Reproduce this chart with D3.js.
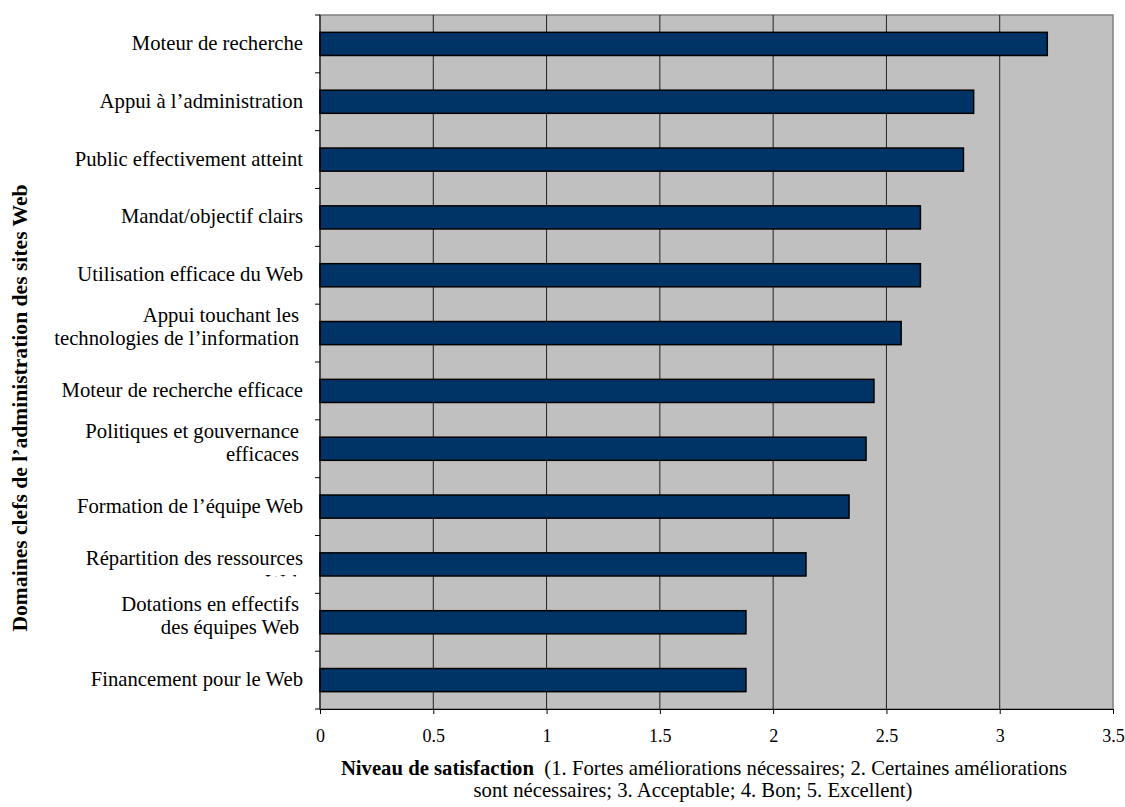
<!DOCTYPE html>
<html>
<head>
<meta charset="utf-8">
<script src="https://cdn.jsdelivr.net/npm/d3@7"></script>
<style>
  body { margin: 0; background: #fff; }
  svg { font-family: "Liberation Serif", "Times New Roman", serif; }
</style>
</head>
<body>
<script>
// DATA
const categories = [
    ['Moteur de recherche'],
    ['Appui à l’administration'],
    ['Public effectivement atteint'],
    ['Mandat/objectif clairs'],
    ['Utilisation efficace du Web'],
    ['Appui touchant les', 'technologies de l’information'],
    ['Moteur de recherche efficace'],
    ['Politiques et gouvernance', 'efficaces'],
    ['Formation de l’équipe Web'],
    ['Répartition des ressources', 'Web'],
    ['Dotations en effectifs', 'des équipes Web'],
    ['Financement pour le Web']
];
const values = [3.21, 2.885, 2.84, 2.65, 2.65, 2.565, 2.445, 2.41, 2.335, 2.145, 1.88, 1.88];
const xTicks = [0, 0.5, 1, 1.5, 2, 2.5, 3, 3.5];
const yTitle = 'Domaines clefs de l’administration des sites Web';
const xTitleBold = 'Niveau de satisfaction';
const xTitleRest = '  (1. Fortes améliorations nécessaires; 2. Certaines améliorations';
const xTitleLine2 = 'sont nécessaires; 3. Acceptable; 4. Bon; 5. Excellent)';

//
// SIZES
const WIDTH = 1125, HEIGHT = 807;
const LEFT = 320, RIGHT = 1113, TOP = 15, BOTTOM = 709;

const svg = d3.select('body').append('svg')
    .attr('width', WIDTH)
    .attr('height', HEIGHT);

const x = d3.scaleLinear().domain([0, 3.5]).range([LEFT, RIGHT]);
const y = d3.scaleBand().domain(d3.range(categories.length)).range([TOP, BOTTOM]).paddingInner(0.6).paddingOuter(0.3);
const yb = d3.scaleBand().domain(d3.range(categories.length)).range([TOP, BOTTOM]);

// plot area
svg.append('rect')
    .attr('x', LEFT).attr('y', TOP)
    .attr('width', RIGHT - LEFT).attr('height', BOTTOM - TOP)
    .attr('fill', '#C0C0C0')
    .attr('stroke', '#808080')
    .attr('stroke-width', 1.5);

// gridlines
svg.append('g').selectAll('line')
    .data(xTicks.slice(1, -1))
    .enter().append('line')
    .attr('x1', d => x(d)).attr('x2', d => x(d))
    .attr('y1', TOP).attr('y2', BOTTOM)
    .attr('stroke', '#222')
    .attr('stroke-width', 1);

// bars
svg.append('g').selectAll('rect')
    .data(values)
    .enter().append('rect')
    .attr('x', x(0))
    .attr('y', (d, i) => y(i))
    .attr('width', d => x(d) - x(0))
    .attr('height', y.bandwidth())
    .attr('fill', '#003366')
    .attr('stroke', '#000')
    .attr('stroke-width', 1.5);

// x axis
const xAxis = svg.append('g')
    .attr('transform', 'translate(0,' + BOTTOM + ')')
    .call(d3.axisBottom(x).tickValues(xTicks).tickFormat(d3.format('')).tickSize(5).tickPadding(15));
xAxis.select('.domain').attr('stroke', '#000');
xAxis.selectAll('.tick line').attr('stroke', '#000');
xAxis.selectAll('text')
    .attr('font-family', '"Liberation Serif", serif')
    .attr('font-size', 18)
    .attr('fill', '#000');

// y axis line and ticks at band boundaries
svg.append('line')
    .attr('x1', LEFT).attr('x2', LEFT)
    .attr('y1', TOP).attr('y2', BOTTOM)
    .attr('stroke', '#000');
svg.append('g').selectAll('line')
    .data(d3.range(categories.length + 1))
    .enter().append('line')
    .attr('x1', LEFT - 5).attr('x2', LEFT)
    .attr('y1', i => TOP + i * yb.step())
    .attr('y2', i => TOP + i * yb.step())
    .attr('stroke', '#000');

// clip for the truncated label
const cutC = yb(9) + yb.bandwidth() / 2;
svg.append('clipPath').attr('id', 'cut')
    .append('rect')
    .attr('x', 0).attr('y', yb(9)).attr('width', LEFT).attr('height', cutC + 12 - yb(9));

// category labels
const labels = svg.append('g')
    .attr('font-size', 20.7)
    .attr('text-anchor', 'end')
    .attr('fill', '#000');
categories.forEach(function (lines, i) {
    const c = yb(i) + yb.bandwidth() / 2;
    const truncated = (i === 9);
    const t = labels.append('text')
        .attr('x', lines.length > 1 && !truncated ? 299 : 303);
    if (truncated) t.attr('clip-path', 'url(#cut)');
    lines.forEach(function (s, k) {
        let base;
        if (lines.length === 1) base = c + 6;
        else if (truncated) base = c + 1 + k * 24;
        else base = c - 11 + k * 23;
        t.append('tspan').attr('x', t.attr('x')).attr('y', base).text(s);
    });
});

// y title
svg.append('text')
    .attr('transform', 'translate(27,408) rotate(-90)')
    .attr('text-anchor', 'middle')
    .attr('font-size', 21.6)
    .attr('font-weight', 'bold')
    .text(yTitle);

// x title
const xt = svg.append('text')
    .attr('x', 704).attr('y', 775)
    .attr('text-anchor', 'middle')
    .attr('font-size', 20.7)
    .attr('xml:space', 'preserve');
xt.append('tspan').attr('font-weight', 'bold').text(xTitleBold);
xt.append('tspan').text(xTitleRest);
svg.append('text')
    .attr('x', 693).attr('y', 797)
    .attr('text-anchor', 'middle')
    .attr('font-size', 20.7)
    .text(xTitleLine2);
</script>
</body>
</html>
